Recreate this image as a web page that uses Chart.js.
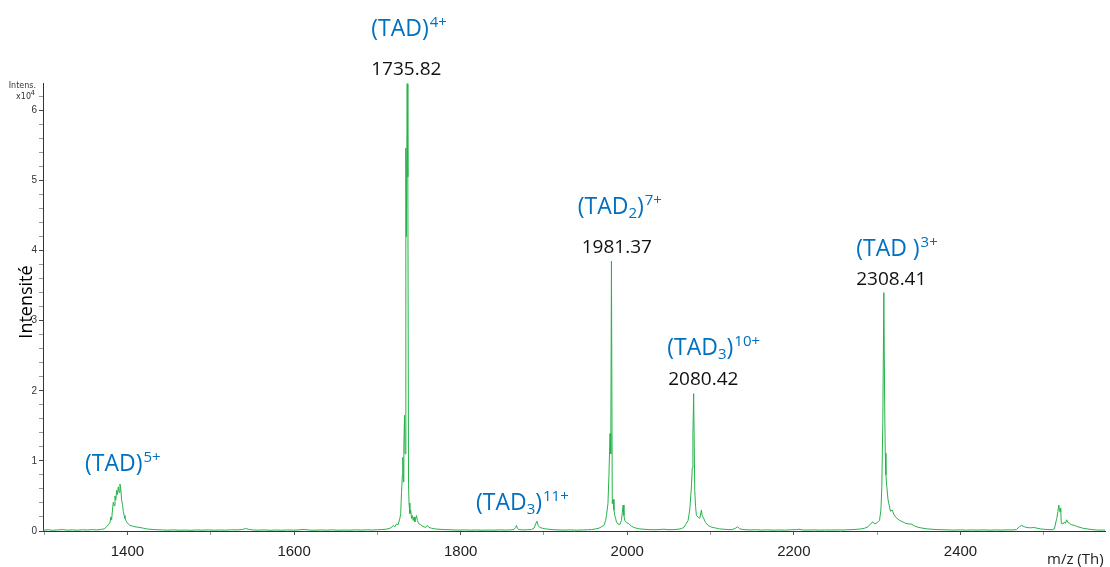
<!DOCTYPE html>
<html>
<head>
<meta charset="utf-8">
<title>Spectre de masse TAD</title>
<script src="https://cdn.jsdelivr.net/npm/chart.js@4.4.0/dist/chart.umd.min.js"></script>
<style>
    html, body { margin: 0; padding: 0; background: #fff; }
    #wrap { width: 1110px; height: 567px; position: relative; }
</style>
</head>
<body>
<div id="wrap"><canvas id="spectrum" width="1110" height="567"></canvas></div>
<script>
// m/z (Th) of the trace points
const mz = [
    1299, 1305, 1310, 1316, 1322, 1328, 1334, 1340, 1346, 1352, 1358, 1363, 1368, 1372,
    1375, 1377, 1379, 1380, 1381, 1382, 1383, 1384, 1385, 1386, 1387, 1388, 1389, 1390, 1391, 1392, 1393, 1394, 1395, 1396, 1397, 1399, 1401, 1403, 1406, 1409, 1412, 1415, 1419, 1423, 1427, 1432, 1437, 1442,
    1448, 1455, 1462, 1469, 1476, 1483, 1490, 1497, 1504, 1511, 1518, 1525, 1532, 1538, 1542, 1545, 1550, 1557, 1564, 1571, 1578, 1585, 1592, 1599, 1606, 1612, 1618, 1625, 1632, 1639, 1646, 1653, 1660, 1667, 1674, 1681, 1688, 1694, 1700, 1705, 1710,
    1714, 1717, 1719, 1721, 1723, 1725, 1727, 1728, 1729, 1730, 1730.6, 1731.2, 1731.8, 1732.6, 1733.2, 1734.2, 1734.8, 1735.8, 1736.6, 1737.4, 1738, 1739, 1740, 1741, 1742, 1743, 1744, 1745, 1746, 1747, 1748, 1749, 1750, 1752, 1754, 1756, 1758, 1760, 1762, 1765, 1769, 1774, 1780, 1786, 1792, 1798,
    1805, 1812, 1819, 1826, 1833, 1840, 1847, 1853, 1859, 1864, 1866, 1867, 1868, 1870, 1875, 1880, 1885, 1888, 1890, 1891.6, 1893, 1895, 1898, 1902, 1906, 1912, 1918, 1925, 1932, 1939, 1946, 1952, 1957, 1962, 1966,
    1969, 1972, 1974, 1975, 1976.8, 1978, 1979.3, 1980.2, 1981, 1982, 1983, 1984, 1985, 1986, 1987, 1989, 1991, 1993, 1995, 1996, 1997, 1999, 2001, 2003, 2005, 2008, 2011, 2015, 2020, 2026, 2032, 2038, 2044, 2050, 2056, 2061, 2065,
    2068, 2071, 2073, 2075, 2077, 2078, 2078.8, 2079.7, 2081, 2082, 2083, 2085, 2087, 2089, 2090, 2091.7, 2094, 2097, 2100, 2103, 2107, 2111, 2116, 2121, 2126, 2130, 2132.5, 2135, 2140, 2147, 2154, 2161, 2168, 2175, 2182, 2189, 2196, 2203, 2206, 2210, 2217, 2224, 2231, 2238, 2245, 2252, 2259, 2265, 2271, 2276, 2281,
    2285, 2289, 2292.8, 2294.8, 2297, 2300, 2302.8, 2304.5, 2305.6, 2306.8, 2308, 2309, 2309.7, 2310.5, 2311.6, 2313, 2314.9, 2316, 2318, 2320, 2322, 2324, 2327, 2330.8, 2334, 2338, 2340.9, 2345, 2350, 2354.8, 2360, 2366, 2372, 2379,
    2386, 2393, 2400, 2407, 2414, 2421, 2428, 2435, 2442, 2449, 2456, 2462, 2467, 2470.7, 2473, 2476.8, 2480, 2484, 2488, 2492, 2496, 2500, 2505, 2510, 2512.8, 2514, 2515.6, 2517, 2518, 2518.8, 2519.6, 2520.3, 2521, 2523, 2524.8, 2526, 2527.5, 2529, 2530.8, 2533, 2536.8, 2541, 2546.8, 2552, 2558, 2563, 2567, 2572, 2575
];

// intensity of the trace points, x10^4
const intensity = [
    0.012, 0.018, 0.010, 0.015, 0.020, 0.012, 0.016, 0.011, 0.018, 0.014, 0.020, 0.015, 0.022, 0.030,
    0.06, 0.09, 0.12, 0.20, 0.16, 0.30, 0.41, 0.36, 0.50, 0.44, 0.58, 0.52, 0.63, 0.55, 0.67, 0.60, 0.44, 0.38, 0.28, 0.22, 0.18, 0.13, 0.10, 0.08, 0.07, 0.06, 0.055, 0.05, 0.04, 0.03, 0.025, 0.02, 0.018, 0.015,
    0.012, 0.016, 0.011, 0.014, 0.010, 0.015, 0.012, 0.016, 0.011, 0.014, 0.012, 0.017, 0.015, 0.022, 0.035, 0.025, 0.015, 0.012, 0.016, 0.010, 0.014, 0.011, 0.015, 0.012, 0.016, 0.022, 0.013, 0.011, 0.015, 0.012, 0.016, 0.011, 0.014, 0.012, 0.016, 0.013, 0.017, 0.014, 0.018, 0.020, 0.025,
    0.035, 0.05, 0.08, 0.06, 0.10, 0.09, 0.18, 0.25, 0.55, 0.80, 1.05, 0.70, 1.20, 1.65, 1.10, 5.46, 4.20, 6.38, 5.05, 0.68, 0.40, 0.25, 0.30, 0.18, 0.22, 0.15, 0.20, 0.13, 0.18, 0.22, 0.15, 0.12, 0.10, 0.09, 0.07, 0.06, 0.05, 0.08, 0.05, 0.04, 0.03, 0.025, 0.02, 0.018, 0.015, 0.013,
    0.016, 0.012, 0.015, 0.011, 0.014, 0.012, 0.016, 0.013, 0.015, 0.020, 0.05, 0.08, 0.04, 0.02, 0.015, 0.018, 0.02, 0.04, 0.10, 0.14, 0.08, 0.05, 0.04, 0.03, 0.025, 0.018, 0.015, 0.013, 0.016, 0.012, 0.015, 0.018, 0.020, 0.030, 0.040,
    0.06, 0.08, 0.15, 0.22, 0.39, 0.79, 1.39, 1.10, 3.85, 0.39, 0.45, 0.30, 0.22, 0.18, 0.13, 0.10, 0.09, 0.15, 0.37, 0.22, 0.15, 0.12, 0.11, 0.09, 0.07, 0.05, 0.04, 0.03, 0.025, 0.020, 0.018, 0.020, 0.025, 0.018, 0.020, 0.025, 0.035,
    0.05, 0.11, 0.15, 0.30, 0.63, 0.90, 1.39, 1.96, 0.58, 0.35, 0.22, 0.20, 0.18, 0.30, 0.22, 0.18, 0.12, 0.08, 0.06, 0.05, 0.04, 0.03, 0.025, 0.020, 0.020, 0.040, 0.060, 0.030, 0.020, 0.015, 0.018, 0.013, 0.016, 0.012, 0.015, 0.012, 0.017, 0.020, 0.025, 0.015, 0.013, 0.016, 0.012, 0.015, 0.013, 0.016, 0.014, 0.018, 0.020, 0.025, 0.030,
    0.04, 0.06, 0.11, 0.13, 0.10, 0.12, 0.15, 0.30, 0.63, 1.58, 3.40, 1.80, 1.11, 0.80, 0.63, 0.45, 0.34, 0.28, 0.30, 0.24, 0.20, 0.18, 0.15, 0.13, 0.11, 0.10, 0.10, 0.07, 0.05, 0.04, 0.03, 0.025, 0.020, 0.018,
    0.015, 0.013, 0.016, 0.012, 0.015, 0.013, 0.016, 0.012, 0.015, 0.013, 0.016, 0.015, 0.020, 0.060, 0.080, 0.060, 0.050, 0.045, 0.050, 0.040, 0.030, 0.025, 0.020, 0.018, 0.030, 0.10, 0.18, 0.28, 0.37, 0.30, 0.27, 0.33, 0.11, 0.10, 0.13, 0.11, 0.16, 0.12, 0.11, 0.09, 0.08, 0.06, 0.04, 0.03, 0.020, 0.015, 0.012, 0.014, 0.012
];

// labelled ticks
const xTickLabels = [1400, 1600, 1800, 2000, 2200, 2400];
const yTickLabels = [0, 1, 2, 3, 4, 5, 6];

// annotated peaks
const peakMz = [1735.82, 1981.37, 2080.42, 2308.41];
const peakText = ["1735.82", "1981.37", "2080.42", "2308.41"];

// ion labels (blue)
const ionMz = [1391, 1735.82, 1981.37, 2080.42, 2308.41, 1891.6];
const ionBase = ["(TAD)", "(TAD)", "(TAD", "(TAD", "(TAD )", "(TAD"];
const ionSub = ["", "", "2", "3", "", "3"];
const ionCharge = ["5+", "4+", "7+", "10+", "3+", "11+"];

document.addEventListener("DOMContentLoaded", function () {
    const canvas = document.getElementById("spectrum");
    const BLUE = "#0070c0";
    const GREEN = "#27b24a";

    // text placement, pixels relative to the peak position
    const peakTextPos = [
        { dx: -36, y: 75 }, { dx: -30, y: 253 }, { dx: -26, y: 385 }, { dx: -28, y: 285 }
    ];
    const ionPos = [
        { dx: -35, y: 471 }, { dx: -36, y: 36 }, { dx: -34, y: 214 },
        { dx: -27, y: 355 }, { dx: -28, y: 256 }, { dx: -61, y: 510 }
    ];

    const points = mz.map((m, i) => ({ x: m, y: intensity[i] }));

    function isLabelled(list, v) {
        return list.some(t => Math.abs(t - v) < 1e-6);
    }

    function drawIon(ctx, x, y, base, sub, charge) {
        ctx.fillStyle = BLUE;
        ctx.textAlign = "left";
        ctx.textBaseline = "alphabetic";
        ctx.font = "23px 'Open Sans'";
        ctx.fillText(base, x, y);
        x += ctx.measureText(base).width;
        if (sub) {
            ctx.font = "15px 'Open Sans'";
            ctx.fillText(sub, x, y + 4);
            x += ctx.measureText(sub).width;
            ctx.font = "23px 'Open Sans'";
            ctx.fillText(")", x, y);
            x += ctx.measureText(")").width;
        }
        ctx.font = "15px 'Open Sans'";
        ctx.fillText(charge, x + 1, y - 9);
    }

    // annotations and axis captions
    const textPlugin = {
        id: "spectrumText",
        afterDraw(chart) {
            const ctx = chart.ctx;
            const xs = chart.scales.x;
            ctx.save();

            ionMz.forEach((m, i) => {
                const px = xs.getPixelForValue(m);
                drawIon(ctx, px + ionPos[i].dx, ionPos[i].y, ionBase[i], ionSub[i], ionCharge[i]);
            });

            ctx.fillStyle = "#111";
            ctx.font = "19px 'Open Sans'";
            ctx.textAlign = "left";
            peakMz.forEach((m, i) => {
                const px = xs.getPixelForValue(m);
                ctx.fillText(peakText[i], px + peakTextPos[i].dx, peakTextPos[i].y);
            });

            // y axis title
            ctx.save();
            ctx.translate(27, 302);
            ctx.rotate(-Math.PI / 2);
            ctx.textAlign = "center";
            ctx.textBaseline = "middle";
            ctx.fillStyle = "#000";
            ctx.font = "18px 'Open Sans'";
            ctx.fillText("Intensité", 0, 0);
            ctx.restore();

            // Intens. x10^4 caption
            ctx.fillStyle = "#333";
            ctx.textAlign = "right";
            ctx.font = "8px 'DejaVu Sans'";
            ctx.fillText("Intens.", 36, 88);
            ctx.fillText("x10", 31, 99);
            ctx.font = "7px 'DejaVu Sans'";
            ctx.fillText("4", 35, 95);

            // x axis title
            ctx.fillStyle = "#222";
            ctx.textAlign = "left";
            ctx.font = "15px 'Open Sans'";
            ctx.fillText("m/z (Th)", 1047, 564);

            ctx.restore();
        }
    };

    new Chart(canvas.getContext("2d"), {
        type: "line",
        data: {
            datasets: [{
                data: points,
                borderColor: GREEN,
                borderWidth: 1,
                pointRadius: 0,
                tension: 0,
                fill: false
            }]
        },
        options: {
            responsive: false,
            animation: false,
            parsing: false,
            layout: { padding: { top: 83, right: 5, bottom: 0, left: 0 } },
            plugins: {
                legend: { display: false },
                tooltip: { enabled: false }
            },
            scales: {
                x: {
                    type: "linear",
                    min: 1298.6,
                    max: 2573.5,
                    afterFit(scale) { scale.height = 36; },
                    border: { display: true, color: "#333", width: 1 },
                    grid: {
                        drawOnChartArea: false,
                        drawTicks: true,
                        tickLength: 4,
                        tickColor: c => isLabelled(xTickLabels, c.tick.value) ? "#555" : "#999"
                    },
                    ticks: {
                        stepSize: 100,
                        includeBounds: false,
                        autoSkip: false,
                        maxRotation: 0,
                        padding: 8,
                        color: "#222",
                        font: { family: "Liberation Sans", size: 15 },
                        callback: v => isLabelled(xTickLabels, v) ? String(Math.round(v)) : ""
                    }
                },
                y: {
                    type: "linear",
                    min: 0,
                    max: 6.39,
                    afterFit(scale) { scale.width = 43; },
                    border: { display: true, color: "#333", width: 1 },
                    grid: {
                        drawOnChartArea: false,
                        drawTicks: true,
                        tickLength: 4,
                        tickColor: c => isLabelled(yTickLabels, c.tick.value) ? "#444" : "#999"
                    },
                    ticks: {
                        stepSize: 0.2,
                        includeBounds: false,
                        autoSkip: false,
                        padding: 2,
                        color: "#333",
                        font: { family: "Liberation Sans", size: 10 },
                        callback: v => isLabelled(yTickLabels, v) ? String(Math.round(v)) : ""
                    }
                }
            }
        },
        plugins: [textPlugin]
    });
});
</script>
</body>
</html>
